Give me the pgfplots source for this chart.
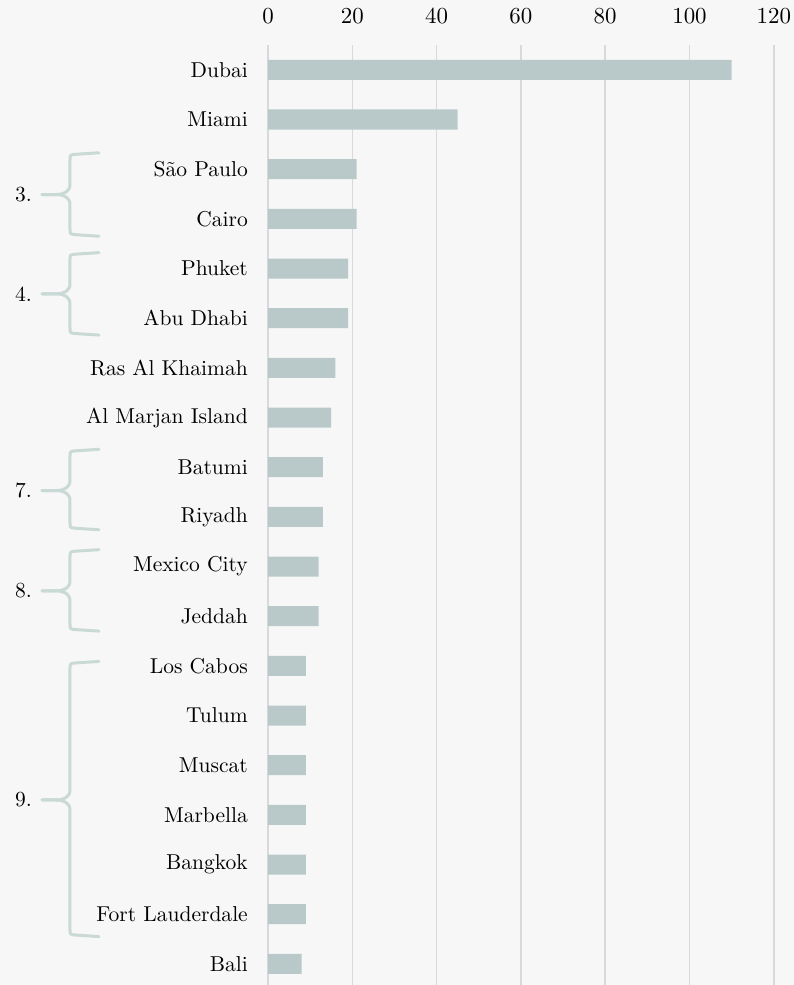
\documentclass[border=0pt]{standalone}
\usepackage{fontspec}
\setmainfont{lmroman10-regular.otf}
\usepackage{pgfplots}
\pgfplotsset{compat=1.18}
\usetikzlibrary{backgrounds}
\definecolor{bgc}{HTML}{F7F7F7}
\definecolor{barc}{HTML}{B9C9CA}
\definecolor{gridc}{HTML}{D9D9D9}
\definecolor{bracec}{HTML}{C9D9D5}
\definecolor{txtc}{HTML}{000000}

% brace: top, bottom, middle (in row units), label
\newcommand{\rankbrace}[4]{%
  \draw[bracec, line width=3bp, line cap=round, line join=round]
    ([xshift=-169bp]axis cs:0,#1) -- ([xshift=-192bp,yshift=-1.5bp]axis cs:0,#1)
    .. controls ([xshift=-198bp,yshift=-2bp]axis cs:0,#1) .. ([xshift=-198bp,yshift=-7bp]axis cs:0,#1)
    -- ([xshift=-198bp,yshift=10bp]axis cs:0,#3)
    .. controls ([xshift=-198bp,yshift=3bp]axis cs:0,#3) and ([xshift=-204bp]axis cs:0,#3) .. ([xshift=-212bp]axis cs:0,#3)
    -- ([xshift=-226bp]axis cs:0,#3);
  \draw[bracec, line width=3bp, line cap=round, line join=round]
    ([xshift=-169bp]axis cs:0,#2) -- ([xshift=-192bp,yshift=1.5bp]axis cs:0,#2)
    .. controls ([xshift=-198bp,yshift=2bp]axis cs:0,#2) .. ([xshift=-198bp,yshift=7bp]axis cs:0,#2)
    -- ([xshift=-198bp,yshift=-10bp]axis cs:0,#3)
    .. controls ([xshift=-198bp,yshift=-3bp]axis cs:0,#3) and ([xshift=-204bp]axis cs:0,#3) .. ([xshift=-212bp]axis cs:0,#3)
    -- ([xshift=-226bp]axis cs:0,#3);
  \node[anchor=east, inner sep=0pt, text=txtc] at ([xshift=-236bp]axis cs:0,#3) {#4};
}

\begin{document}
\begin{tikzpicture}[font=\fontsize{21.6}{26}\selectfont]
\begin{axis}[
  name=ax,
  scale only axis,
  width=505.8bp, height=940bp,
  xmin=0, xmax=120,
  ymin=-0.5, ymax=18.425,
  y dir=reverse,
  xbar, bar width=0.403,
  xtick={0,20,40,60,80,100,120},
  xticklabel pos=upper,
  /pgf/number format/assume math mode=true,
  ytick={0,1,...,18},
  yticklabels={Dubai,Miami,São Paulo,Cairo,Phuket,Abu Dhabi,Ras Al Khaimah,Al Marjan Island,Batumi,Riyadh,Mexico City,Jeddah,Los Cabos,Tulum,Muscat,Marbella,Bangkok,Fort Lauderdale,Bali},
  xmajorgrids,
  grid style={draw=gridc, line width=1.5bp},
  axis line style={draw=none},
  major tick length=0pt,
  tick style={draw=none},
  xticklabel style={inner sep=0pt, yshift=21bp, text=txtc, font=\fontsize{23}{27}\selectfont},
  yticklabel style={inner sep=0pt, xshift=-20bp, text=txtc},
  clip=false,
]
\addplot[fill=barc, draw=none] coordinates {
  (110,0) (45,1) (21,2) (21,3) (19,4) (19,5) (16,6) (15,7) (13,8) (13,9)
  (12,10) (12,11) (9,12) (9,13) (9,14) (9,15) (9,16) (9,17) (8,18)
};
\coordinate (O) at (axis cs:0,-0.5);
\rankbrace{1.67}{3.35}{2.51}{3.}
\rankbrace{3.68}{5.34}{4.51}{4.}
\rankbrace{7.64}{9.26}{8.47}{7.}
\rankbrace{9.66}{11.30}{10.49}{8.}
\rankbrace{11.91}{17.45}{14.70}{9.}
\end{axis}
\pgfresetboundingbox
\path[use as bounding box] ([xshift=-268bp,yshift=45bp]O) rectangle ([xshift=526bp,yshift=-940bp]O);
\begin{scope}[on background layer]
\fill[bgc] ([xshift=-268bp,yshift=45bp]O) rectangle ([xshift=526bp,yshift=-940bp]O);
\end{scope}
\end{tikzpicture}
\end{document}
